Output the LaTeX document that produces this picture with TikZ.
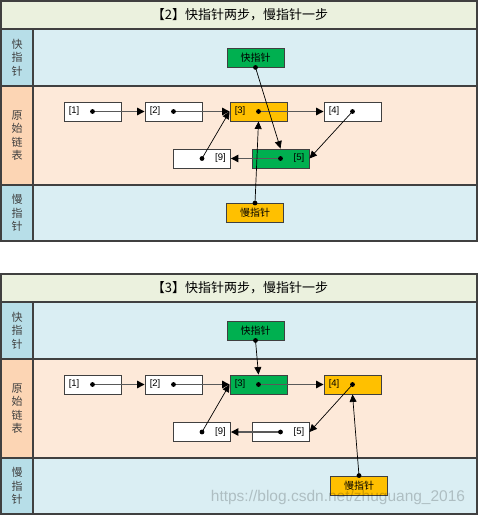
\documentclass[tikz,border=0pt]{standalone}
\usepackage{fontspec}
\setmainfont{Liberation Sans}
\newfontfamily\cjk{Noto Sans CJK SC}
\usetikzlibrary{arrows.meta}
\definecolor{titlebg}{HTML}{EBF1DE}
\definecolor{bluelab}{HTML}{B7DEE8}
\definecolor{bluebg}{HTML}{DAEEF3}
\definecolor{peachlab}{HTML}{FCD5B4}
\definecolor{peachbg}{HTML}{FDE9D9}
\definecolor{gbox}{HTML}{00B050}
\definecolor{ybox}{HTML}{FFC000}
\definecolor{frameline}{HTML}{404040}
\definecolor{hline}{HTML}{595959}
\tikzset{
  frame/.style={draw=frameline, line width=1.3pt},
  titletext/.style={font=\cjk\fontsize{13}{15}\selectfont, text=black},
  rowlab/.style={font=\cjk\fontsize{11}{13.5}\selectfont, text=frameline, align=center},
  box/.style={draw=frameline, line width=0.9pt, minimum width=57, minimum height=19, inner sep=0, fill=white},
  ptrbox/.style={box, font=\cjk\fontsize{10}{12}\selectfont},
  idx/.style={font=\fontsize{9.5}{11}\selectfont, inner sep=0},
  harr/.style={draw=hline, line width=1.3pt, -{Triangle[length=7.5pt,width=7.5pt,fill=black,color=black]}},
  darr/.style={draw=black, line width=0.7pt, -{Triangle[length=7.5pt,width=7pt]}},
  dot/.style={fill=black},
  wm/.style={font=\fontsize{15.5}{17}\selectfont, text=black, text opacity=0.2}
}
\begin{document}
\begin{tikzpicture}[x=1pt,y=-1pt]
\useasboundingbox (0,0) rectangle (479,516);
% ---------- panel 1 background ----------
\fill[titlebg] (1,1) rectangle (477,29);
\fill[bluelab] (1,29) rectangle (33,86);
\fill[bluebg] (33,29) rectangle (477,86);
\fill[peachlab] (1,86) rectangle (33,185);
\fill[peachbg] (33,86) rectangle (477,185);
\fill[bluelab] (1,185) rectangle (33,241);
\fill[bluebg] (33,185) rectangle (477,241);
\draw[frame] (1,1) rectangle (477,241);
\draw[frame] (1,29) -- (477,29);
\draw[frame] (1,86) -- (477,86);
\draw[frame] (1,185) -- (477,185);
\draw[frame] (33,29) -- (33,241);
\node[titletext] (t1) at (240,15) {【2】快指针两步，慢指针一步};
\node[rowlab] (r1a) at (17,57.5) {快\\指\\针};
\node[rowlab] (r1b) at (17,135.5) {原\\始\\链\\表};
\node[rowlab] (r1c) at (17,213) {慢\\指\\针};
% ---------- panel 1 nodes ----------
\node[ptrbox, fill=gbox] (fp1) at (255.5,57.5) {快指针};
\node[box] (a1) at (92.5,111.5) {};
\node[box] (a2) at (173.5,111.5) {};
\node[box, fill=ybox] (a3) at (258.5,111.5) {};
\node[box] (a4) at (352.5,111.5) {};
\node[box, fill=gbox] (a5) at (280.5,158.5) {};
\node[box] (a9) at (202,158.5) {};
\node[ptrbox, fill=ybox] (sp1) at (255,213) {慢指针};
\node[idx, anchor=west] (a1l) at ([xshift=5]a1.west) {[1]};
\node[idx, anchor=west] (a2l) at ([xshift=5]a2.west) {[2]};
\node[idx, anchor=west] (a3l) at ([xshift=5]a3.west) {[3]};
\node[idx, anchor=west] (a4l) at ([xshift=5]a4.west) {[4]};
\node[idx, anchor=east] (a5l) at ([xshift=-5]a5.east) {[5]};
\node[idx, anchor=east] (a9l) at ([xshift=-5]a9.east) {[9]};
% ---------- panel 1 connectors ----------
\draw[harr] (a1.center) -- (a2.west);
\draw[harr] (a2.center) -- (a3.west);
\draw[harr] (a3.center) -- (a4.west);
\draw[darr] (a4.center) -- (a5.east);
\draw[harr] (a5.center) -- (a9.east);
\draw[darr] (a9.center) -- (a3.west);
\draw[darr] (fp1.south) -- (a5.north);
\draw[darr] (sp1.north) -- (a3.south);
\foreach \n in {a1,a2,a3,a4,a5,a9} \fill[dot] (\n.center) circle (2.4);
\fill[dot] (fp1.south) circle (2.4);
\fill[dot] (sp1.north) circle (2.4);
% ---------- panel 2 background ----------
\fill[titlebg] (1,274) rectangle (477,302);
\fill[bluelab] (1,302) rectangle (33,359);
\fill[bluebg] (33,302) rectangle (477,359);
\fill[peachlab] (1,359) rectangle (33,458);
\fill[peachbg] (33,359) rectangle (477,458);
\fill[bluelab] (1,458) rectangle (33,514);
\fill[bluebg] (33,458) rectangle (477,514);
\draw[frame] (1,274) rectangle (477,514);
\draw[frame] (1,302) -- (477,302);
\draw[frame] (1,359) -- (477,359);
\draw[frame] (1,458) -- (477,458);
\draw[frame] (33,302) -- (33,514);
\node[titletext] (t2) at (240,288) {【3】快指针两步，慢指针一步};
\node[rowlab] (r2a) at (17,330.5) {快\\指\\针};
\node[rowlab] (r2b) at (17,408.5) {原\\始\\链\\表};
\node[rowlab] (r2c) at (17,486) {慢\\指\\针};
% ---------- panel 2 nodes ----------
\node[ptrbox, fill=gbox] (fp2) at (255.5,330.5) {快指针};
\node[box] (b1) at (92.5,384.5) {};
\node[box] (b2) at (173.5,384.5) {};
\node[box, fill=gbox] (b3) at (258.5,384.5) {};
\node[box, fill=ybox] (b4) at (352.5,384.5) {};
\node[box] (b5) at (280.5,432) {};
\node[box] (b9) at (202,432) {};
\node[ptrbox, fill=ybox] (sp2) at (359,485.5) {慢指针};
\node[idx, anchor=west] (b1l) at ([xshift=5]b1.west) {[1]};
\node[idx, anchor=west] (b2l) at ([xshift=5]b2.west) {[2]};
\node[idx, anchor=west] (b3l) at ([xshift=5]b3.west) {[3]};
\node[idx, anchor=west] (b4l) at ([xshift=5]b4.west) {[4]};
\node[idx, anchor=east] (b5l) at ([xshift=-5]b5.east) {[5]};
\node[idx, anchor=east] (b9l) at ([xshift=-5]b9.east) {[9]};
% ---------- panel 2 connectors ----------
\draw[darr] (fp2.south) -- (b3.north);
\draw[harr] (b1.center) -- (b2.west);
\draw[harr] (b2.center) -- (b3.west);
\draw[harr] (b3.center) -- (b4.west);
\draw[darr] (b4.center) -- (b5.east);
\draw[harr] (b5.center) -- (b9.east);
\draw[darr] (b9.center) -- (b3.west);
\draw[darr] (sp2.north) -- (b4.south);
\foreach \n in {b1,b2,b3,b4,b5,b9} \fill[dot] (\n.center) circle (2.4);
\fill[dot] (fp2.south) circle (2.4);
\fill[dot] (sp2.north) circle (2.4);
% ---------- watermark (on top, as in the reference) ----------
\node[wm] (wm) at (338,497) {https://blog.csdn.net/zhuguang\_2016};
\end{tikzpicture}
\end{document}
